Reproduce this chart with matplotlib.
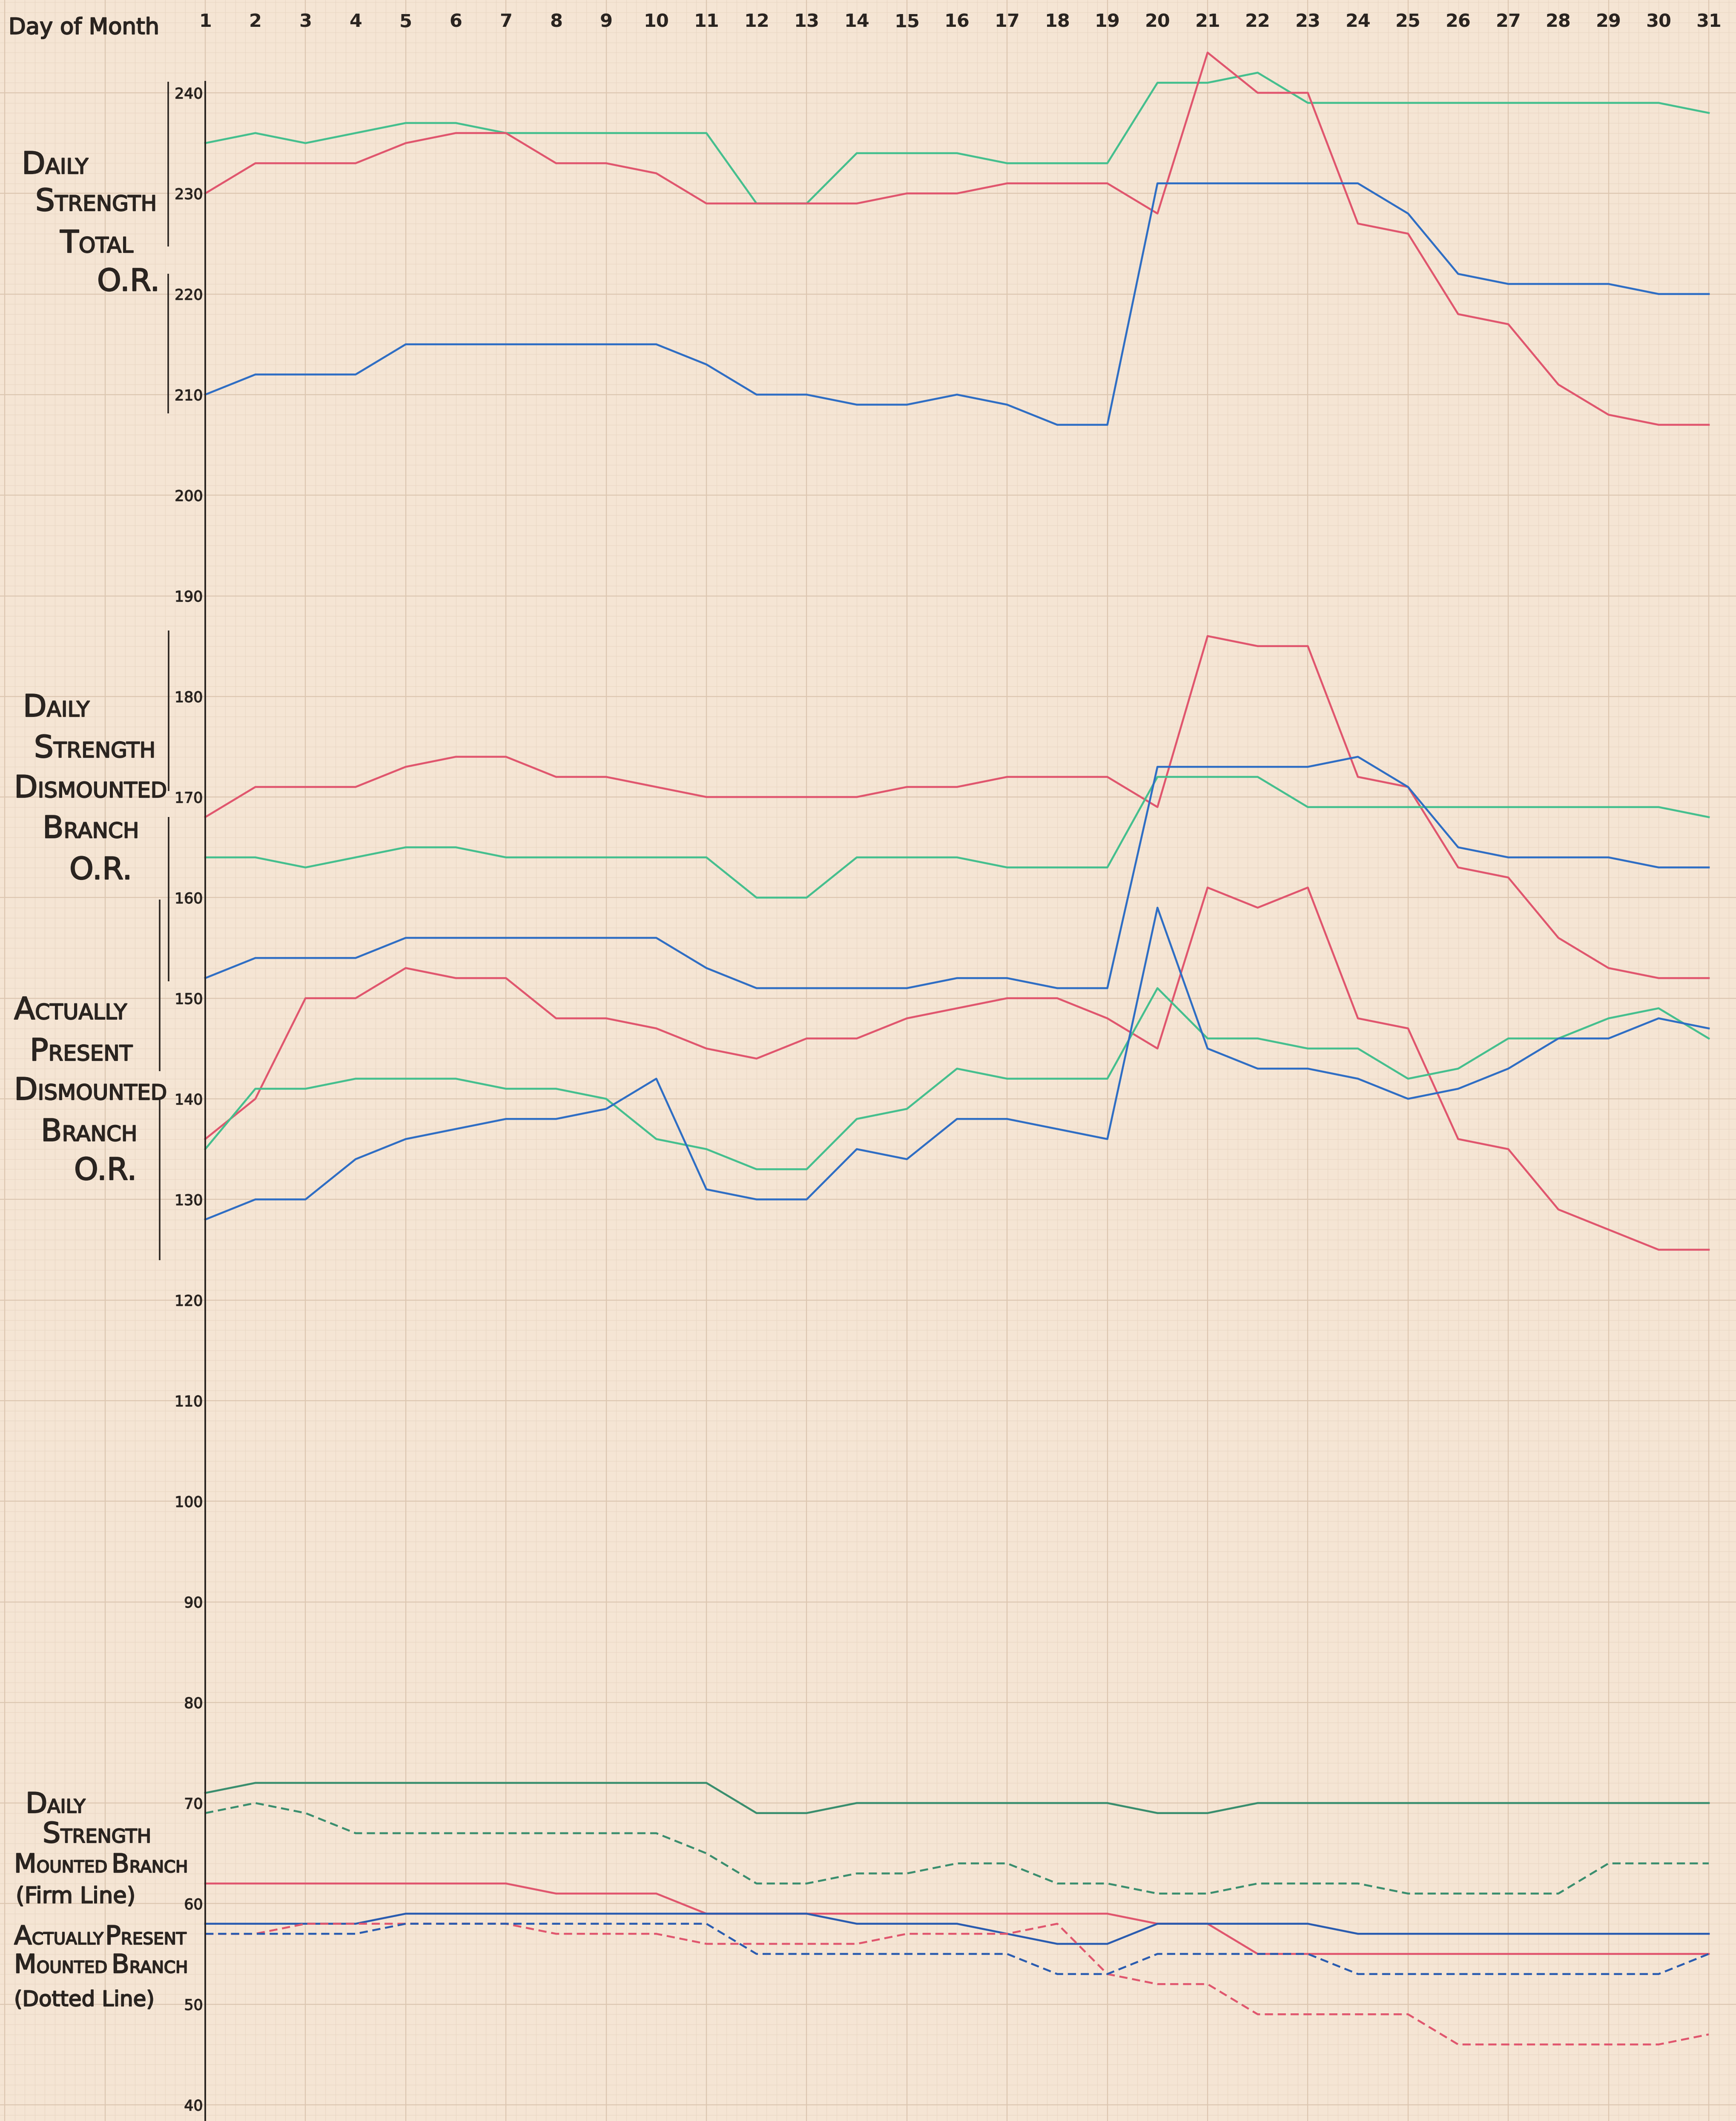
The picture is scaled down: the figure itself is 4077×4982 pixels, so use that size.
import matplotlib
matplotlib.use("Agg")
import matplotlib.pyplot as plt
import numpy as np
from matplotlib import patheffects as pe
from matplotlib.transforms import IdentityTransform

# ---------------- data ----------------
days = list(range(1, 32))
day_labels = [str(d) for d in days]
ytick_values = list(range(40, 250, 10))

# Daily Strength Total O.R.
total_green = [235, 236, 235, 236, 237, 237, 236, 236, 236, 236, 236, 229, 229, 234, 234, 234,
               233, 233, 233, 241, 241, 242, 239, 239, 239, 239, 239, 239, 239, 239, 238]
total_red = [230, 233, 233, 233, 235, 236, 236, 233, 233, 232, 229, 229, 229, 229, 230, 230,
             231, 231, 231, 228, 244, 240, 240, 227, 226, 218, 217, 211, 208, 207, 207]
total_blue = [210, 212, 212, 212, 215, 215, 215, 215, 215, 215, 213, 210, 210, 209, 209, 210,
              209, 207, 207, 231, 231, 231, 231, 231, 228, 222, 221, 221, 221, 220, 220]

# Daily Strength Dismounted Branch O.R.
dis_red = [168, 171, 171, 171, 173, 174, 174, 172, 172, 171, 170, 170, 170, 170, 171, 171,
           172, 172, 172, 169, 186, 185, 185, 172, 171, 163, 162, 156, 153, 152, 152]
dis_green = [164, 164, 163, 164, 165, 165, 164, 164, 164, 164, 164, 160, 160, 164, 164, 164,
             163, 163, 163, 172, 172, 172, 169, 169, 169, 169, 169, 169, 169, 169, 168]
dis_blue = [152, 154, 154, 154, 156, 156, 156, 156, 156, 156, 153, 151, 151, 151, 151, 152,
            152, 151, 151, 173, 173, 173, 173, 174, 171, 165, 164, 164, 164, 163, 163]

# Actually Present Dismounted Branch O.R.
ap_red = [136, 140, 150, 150, 153, 152, 152, 148, 148, 147, 145, 144, 146, 146, 148, 149,
          150, 150, 148, 145, 161, 159, 161, 148, 147, 136, 135, 129, 127, 125, 125]
ap_green = [135, 141, 141, 142, 142, 142, 141, 141, 140, 136, 135, 133, 133, 138, 139, 143,
            142, 142, 142, 151, 146, 146, 145, 145, 142, 143, 146, 146, 148, 149, 146]
ap_blue = [128, 130, 130, 134, 136, 137, 138, 138, 139, 142, 131, 130, 130, 135, 134, 138,
           138, 137, 136, 159, 145, 143, 143, 142, 140, 141, 143, 146, 146, 148, 147]

# Mounted Branch: daily strength (firm) and actually present (dotted)
mt_green = [71, 72, 72, 72, 72, 72, 72, 72, 72, 72, 72, 69, 69, 70, 70, 70,
            70, 70, 70, 69, 69, 70, 70, 70, 70, 70, 70, 70, 70, 70, 70]
mt_green_ap = [69, 70, 69, 67, 67, 67, 67, 67, 67, 67, 65, 62, 62, 63, 63, 64,
               64, 62, 62, 61, 61, 62, 62, 62, 61, 61, 61, 61, 64, 64, 64]
mt_red = [62, 62, 62, 62, 62, 62, 62, 61, 61, 61, 59, 59, 59, 59, 59, 59,
          59, 59, 59, 58, 58, 55, 55, 55, 55, 55, 55, 55, 55, 55, 55]
mt_red_ap = [57, 57, 58, 58, 58, 58, 58, 57, 57, 57, 56, 56, 56, 56, 57, 57,
             57, 58, 53, 52, 52, 49, 49, 49, 49, 46, 46, 46, 46, 46, 47]
mt_blue = [58, 58, 58, 58, 59, 59, 59, 59, 59, 59, 59, 59, 59, 58, 58, 58,
           57, 56, 56, 58, 58, 58, 58, 57, 57, 57, 57, 57, 57, 57, 57]
mt_blue_ap = [57, 57, 57, 57, 58, 58, 58, 58, 58, 58, 58, 55, 55, 55, 55, 55,
              55, 53, 53, 55, 55, 55, 55, 53, 53, 53, 53, 53, 53, 53, 55]

# ---------------- style ----------------
W, H, DPI = 4077, 4982, 100
PAPER = "#f5e5d4"
MINOR = "#ebd8c5"
MAJOR = "#dcc6b0"
INK = "#2a2420"
RED = "#e0566e"
GREEN = "#45bf8e"
DKGREEN = "#3a8e6e"
BLUE = "#2f6ec4"
DKBLUE = "#2a5cb0"

X0_PX, DAY_PX = 482.0, 117.7
Y240_PX, UNIT_PX = 218.0, 23.63

fig = plt.figure(figsize=(W / DPI, H / DPI), dpi=DPI)
fig.patch.set_facecolor(PAPER)
ax = fig.add_axes([0, 0, 1, 1])
ax.set_facecolor(PAPER)

xmin = 1 - X0_PX / DAY_PX
xmax = xmin + W / DAY_PX
ymax = 240 + Y240_PX / UNIT_PX
ymin = ymax - H / UNIT_PX
ax.set_xlim(xmin, xmax)
ax.set_ylim(ymin, ymax)


def px2x(px):
    return xmin + px / DAY_PX


def px2y(py):
    return ymax - py / UNIT_PX


# graph-paper grid
xs_minor = 1 + 0.2 * np.arange(int((xmin - 1) / 0.2) - 1, int((xmax - 1) / 0.2) + 2)
xs_major = 1 + 2 * np.arange(int((xmin - 1) / 2) - 1, int((xmax - 1) / 2) + 2)
ys_minor = np.arange(int(ymin) - 1, int(ymax) + 2, 1)
ys_major = np.arange(30, 260, 10)
ax.vlines(xs_minor, ymin, ymax, color=MINOR, lw=0.9, zorder=0)
ax.hlines(ys_minor, xmin, xmax, color=MINOR, lw=0.9, zorder=0)
ax.vlines(xs_major, ymin, ymax, color=MAJOR, lw=1.6, zorder=0.5)
ax.hlines(ys_major, xmin, xmax, color=MAJOR, lw=1.6, zorder=0.5)

# spines / ticks
for s in ["right", "bottom"]:
    ax.spines[s].set_visible(False)
ax.spines["left"].set_position(("data", 1))
ax.spines["left"].set_bounds(ymin, px2y(192))
ax.spines["left"].set_color(INK)
ax.spines["left"].set_linewidth(2.8)
ax.spines["left"].set_zorder(5)
ax.spines["top"].set_position(("data", px2y(78)))
ax.spines["top"].set_visible(False)

ax.set_yticks(ytick_values)
ax.set_yticklabels([str(v) for v in ytick_values])
ax.tick_params(axis="y", length=0, pad=4, labelsize=25, labelcolor=INK)
for lab in ax.get_yticklabels():
    lab.set_path_effects([pe.withStroke(linewidth=1.0, foreground=INK)])
ax.xaxis.set_ticks_position("top")
ax.set_xticks(days)
ax.set_xticklabels(day_labels, fontweight="bold")
ax.tick_params(axis="x", length=0, pad=4, labelsize=31, labelcolor=INK,
               labeltop=True, labelbottom=False)

# ---------------- series ----------------
LW = 3.3
series = [
    (total_green, GREEN, "-"), (total_red, RED, "-"), (total_blue, BLUE, "-"),
    (dis_red, RED, "-"), (dis_green, GREEN, "-"), (dis_blue, BLUE, "-"),
    (ap_red, RED, "-"), (ap_green, GREEN, "-"), (ap_blue, BLUE, "-"),
    (mt_green, DKGREEN, "-"), (mt_red, RED, "-"), (mt_blue, DKBLUE, "-"),
    (mt_green_ap, DKGREEN, "--"), (mt_red_ap, RED, "--"), (mt_blue_ap, DKBLUE, "--"),
]
for vals, col, ls in series:
    kw = dict(color=col, lw=LW, solid_joinstyle="round", zorder=3)
    if ls == "--":
        kw["dashes"] = (4.2, 2.4)
    ax.plot(days, vals, **kw)

# ---------------- labels ----------------
renderer = fig.canvas.get_renderer()
stroke = [pe.withStroke(linewidth=1.6, foreground=INK)]


def put(x_px, base_px, s, size):
    t = fig.text(x_px, H - base_px, s, fontsize=size, color=INK, transform=IdentityTransform(),
                 ha="left", va="baseline", family="DejaVu Sans", path_effects=stroke)
    return t.get_window_extent(renderer).x1


def smallcaps(x_px, base_px, line, big, small, space=0.25):
    x = x_px
    for i, word in enumerate(line.split(" ")):
        if i > 0:
            x += space * small * DPI / 72
        if word == "O.R.":
            x = put(x, base_px, word, big)
        else:
            x = put(x, base_px, word[0], big)
            if len(word) > 1:
                x = put(x, base_px, word[1:], small)


# Day of Month
put(20, 80, "Day of Month", 38)

# Top group
B1, S1 = 52, 36
smallcaps(51, 408, "DAILY", B1, S1)
smallcaps(83, 495, "STRENGTH", B1, S1)
smallcaps(141, 593, "TOTAL", B1, S1)
smallcaps(228, 683, "O.R.", B1, S1)

# Middle groups
smallcaps(54, 1683, "DAILY", B1, S1)
smallcaps(80, 1779, "STRENGTH", B1, S1)
smallcaps(33, 1873, "DISMOUNTED", B1, S1)
smallcaps(100, 1968, "BRANCH", B1, S1)
smallcaps(163, 2065, "O.R.", B1, S1)

smallcaps(33, 2394, "ACTUALLY", B1, S1)
smallcaps(70, 2491, "PRESENT", B1, S1)
smallcaps(33, 2583, "DISMOUNTED", B1, S1)
smallcaps(96, 2680, "BRANCH", B1, S1)
smallcaps(174, 2771, "O.R.", B1, S1)

# Bottom group
smallcaps(60, 4258, "DAILY", 48, 32)
smallcaps(100, 4328, "STRENGTH", 48, 32)
smallcaps(33, 4398, "MOUNTED BRANCH", 44, 28)
put(37, 4470, "(Firm Line)", 38)
smallcaps(33, 4567, "ACTUALLY PRESENT", 44, 28, space=0.1)
smallcaps(33, 4634, "MOUNTED BRANCH", 44, 28)
put(33, 4712, "(Dotted Line)", 36)

# brackets beside the labels
brackets = [(395, 192, 579), (395, 643, 971),
            (396, 1481, 1858), (396, 1919, 2305),
            (375, 2113, 2516), (375, 2583, 2960)]
for bx, y0, y1 in brackets:
    ax.plot([px2x(bx), px2x(bx)], [px2y(y0), px2y(y1)], color=INK, lw=2.6,
            solid_capstyle="butt", zorder=5)

fig.savefig("out.png", dpi=DPI, facecolor=PAPER)
